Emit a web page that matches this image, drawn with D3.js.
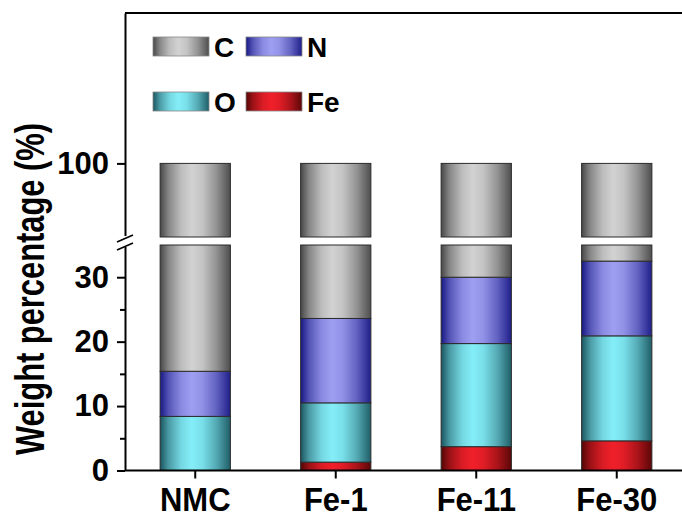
<!DOCTYPE html>
<html>
<head>
<meta charset="utf-8">
<script src="https://cdn.jsdelivr.net/npm/d3@7"></script>
<style>
  body { margin: 0; background: #fff; }
  text { font-family: "Liberation Sans", Arial, sans-serif; font-weight: bold; fill: #000; }
</style>
</head>
<body>
<div id="plotdiv"></div>
<script>
// Size of figure
var outerWidth = 682;
var outerHeight = 519;

// Data - weight percentage of each element
var categories = ["NMC", "Fe-1", "Fe-11", "Fe-30"];
var keys = ["Fe", "O", "N", "C"];
var feVals = [0, 1.3, 3.7, 4.6];
var oVals  = [8.4, 9.2, 16.0, 16.3];
var nVals  = [7.0, 13.1, 10.3, 11.6];
var cVals  = [84.6, 76.4, 70.0, 67.5];

var lowTicks = [0, 10, 20, 30];
var lowMinorTicks = [5, 15, 25];
var highTicks = [100];

// Legend order (two rows)
var legendRows = [["C", "N"], ["O", "Fe"]];

// Colours for the cylinder-like gradients: edge (dark) and centre (light)
var colours = {
  C:  { dark: "#474747", light: "#d2d2d2" },
  N:  { dark: "#181884", light: "#9e9ef2" },
  O:  { dark: "#1a5660", light: "#84eef8" },
  Fe: { dark: "#540606", light: "#f0202a" }
};

// Plot frame
var axisX0 = 125;
var frameTop = 13;
var baseY = 470.5;
var breakLow = 245;   // top of lower panel
var breakHigh = 237;  // bottom of upper panel

// Table built from the arrays
var table = categories.map(function(c, i) {
  return { cat: c, Fe: feVals[i], O: oVals[i], N: nVals[i], C: cVals[i] };
});
var series = d3.stack().keys(keys)(table);

var svg = d3.select("#plotdiv").append("svg")
  .attr("width", outerWidth)
  .attr("height", outerHeight);

// Gradients
var defs = svg.append("defs");
keys.forEach(function(k) {
  var gr = defs.append("linearGradient")
    .attr("id", "grad-" + k)
    .attr("x1", 0).attr("x2", 1).attr("y1", 0).attr("y2", 0);
  var mix = d3.interpolateRgb(colours[k].dark, colours[k].light);
  [[0, 0], [0.12, 0.45], [0.3, 0.85], [0.45, 1], [0.6, 0.9], [0.8, 0.55], [1, 0.05]].forEach(function(s) {
    gr.append("stop").attr("offset", s[0]).attr("stop-color", mix(s[1]));
  });
});

// Scales
var xScale = d3.scaleBand()
  .domain(categories)
  .range([axisX0, axisX0 + 562])
  .paddingInner(0.5)
  .paddingOuter(0.25);

var yLow = d3.scaleLinear().domain([0, 35]).range([baseY, breakLow]);
var yHigh = d3.scaleLinear().domain([88.5, 123.5]).range([breakHigh, frameTop]);

// Draw the bars of one panel, clipped to its domain
function drawPanel(yScale, cls) {
  var dom = yScale.domain();
  var g = svg.append("g").attr("class", cls);
  series.forEach(function(s) {
    g.selectAll("rect." + s.key)
      .data(s.filter(function(d) {
        return Math.min(d[1], dom[1]) > Math.max(d[0], dom[0]);
      }))
      .enter().append("rect")
      .attr("class", s.key)
      .attr("x", function(d) { return xScale(d.data.cat); })
      .attr("width", xScale.bandwidth())
      .attr("y", function(d) { return yScale(Math.min(d[1], dom[1])); })
      .attr("height", function(d) {
        return yScale(Math.max(d[0], dom[0])) - yScale(Math.min(d[1], dom[1]));
      })
      .attr("fill", "url(#grad-" + s.key + ")")
      .attr("stroke", "#2b2b2b")
      .attr("stroke-width", 1);
  });
}
drawPanel(yLow, "low");
drawPanel(yHigh, "high");

// Axes
var axisLow = d3.axisLeft(yLow).tickValues(lowTicks).tickSize(8).tickSizeOuter(0).tickPadding(8);
var axisLowMinor = d3.axisLeft(yLow).tickValues(lowMinorTicks).tickSize(5).tickSizeOuter(0).tickFormat("");
var axisHigh = d3.axisLeft(yHigh).tickValues(highTicks).tickSize(8).tickSizeOuter(0).tickPadding(8);
var axisBottom = d3.axisBottom(xScale).tickSize(8).tickSizeOuter(0).tickPadding(8);

function styleAxis(sel, fontSize) {
  sel.selectAll("path, line").attr("stroke", "#000").attr("stroke-width", 2);
  sel.selectAll("text")
    .attr("font-size", fontSize)
    .attr("font-family", null)
    .attr("fill", "#000");
}

var gLow = svg.append("g").attr("transform", "translate(" + axisX0 + ",0)").call(axisLow);
styleAxis(gLow, 31);
var gLowMinor = svg.append("g").attr("transform", "translate(" + axisX0 + ",0)").call(axisLowMinor);
styleAxis(gLowMinor, 31);
gLowMinor.select(".domain").remove();
var gHigh = svg.append("g").attr("transform", "translate(" + axisX0 + ",0)").call(axisHigh);
styleAxis(gHigh, 31);

var gBottom = svg.append("g").attr("transform", "translate(0," + baseY + ")").call(axisBottom);
styleAxis(gBottom, 31);
// category labels are a little taller than plain Arial
gBottom.selectAll(".tick text").attr("transform", "scale(1,1.06)");
gBottom.select(".domain").attr("d", "M" + axisX0 + ",0H" + (outerWidth + 5));

// Top frame line
svg.append("line")
  .attr("x1", axisX0).attr("x2", outerWidth + 5)
  .attr("y1", frameTop).attr("y2", frameTop)
  .attr("stroke", "#000").attr("stroke-width", 2);

// Break marks on the y axis
svg.append("rect")
  .attr("x", axisX0 - 3).attr("y", 236).attr("width", 6).attr("height", 11)
  .attr("fill", "#fff");
[[0, 0], [0, 8]].forEach(function(o) {
  svg.append("line")
    .attr("x1", axisX0 - 8).attr("y1", 242 + o[1])
    .attr("x2", axisX0 + 8).attr("y2", 235 + o[1])
    .attr("stroke", "#000").attr("stroke-width", 1.6);
});

// Y axis label
svg.append("text")
  .attr("transform", "translate(44,289) rotate(-90)")
  .attr("text-anchor", "middle")
  .attr("font-size", 41)
  .attr("textLength", 332)
  .attr("lengthAdjust", "spacingAndGlyphs")
  .text("Weight percentage (%)");

// Legend
var gLegend = svg.append("g");
legendRows.forEach(function(row, r) {
  row.forEach(function(k, c) {
    var lx = 153 + c * 93;
    var ly = 37 + r * 55;
    gLegend.append("rect")
      .attr("x", lx).attr("y", ly)
      .attr("width", 56).attr("height", 19)
      .attr("fill", "url(#grad-" + k + ")")
      .attr("stroke", "#888").attr("stroke-width", 0.8);
    gLegend.append("text")
      .attr("x", lx + 61).attr("y", ly + 20)
      .attr("font-size", 28)
      .text(k);
  });
});
</script>
</body>
</html>
